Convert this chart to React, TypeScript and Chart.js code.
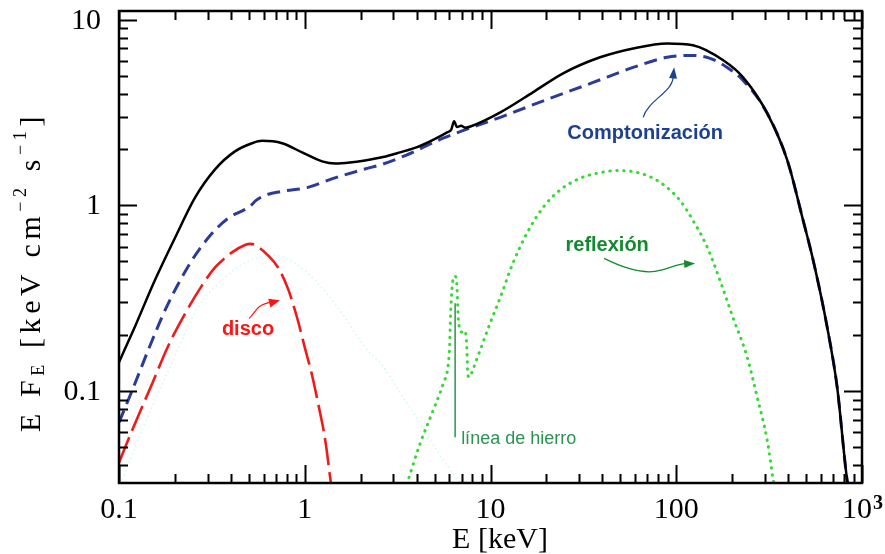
import { useEffect, useRef } from "react";
import { Chart, registerables } from "chart.js";

Chart.register(...registerables);

// ---- data (E in keV, E·F_E in keV cm^-2 s^-1) ----
const totalE = [0.1, 0.122, 0.156, 0.2, 0.257, 0.329, 0.421, 0.52, 0.589, 0.755, 0.967, 1.24, 1.46, 1.75, 2.11, 2.64, 3.26, 4.03, 4.85, 5.84, 6.15, 6.37, 6.6, 6.95, 7.3, 7.8, 11.3, 16.9, 24.6, 38.9, 58.6, 89.3, 123, 179, 229, 309, 396, 482, 546, 650, 735, 832, 853];
const totalF = [0.143, 0.223, 0.395, 0.667, 1.104, 1.563, 1.953, 2.16, 2.225, 2.16, 1.929, 1.726, 1.68, 1.7, 1.745, 1.82, 1.93, 2.06, 2.24, 2.47, 2.56, 2.84, 2.64, 2.68, 2.62, 2.66, 3.17, 4.06, 5.14, 6.27, 7.0, 7.45, 7.28, 6.04, 4.89, 3.13, 1.75, 0.83, 0.506, 0.22, 0.105, 0.033, 0.029];

const comptE = [0.1, 0.119, 0.147, 0.181, 0.247, 0.317, 0.386, 0.477, 0.507, 0.547, 0.611, 0.755, 1.04, 1.4, 2.11, 2.64, 3.5, 5.56, 11.3, 20.9, 35.7, 58.6, 89.3, 119, 152, 188, 229, 309, 396, 482, 546, 650, 735, 832, 853];
const comptF = [0.0678, 0.1035, 0.176, 0.286, 0.506, 0.707, 0.851, 0.952, 0.988, 1.064, 1.132, 1.19, 1.25, 1.39, 1.57, 1.67, 1.86, 2.3, 2.98, 3.77, 4.59, 5.53, 6.27, 6.42, 6.19, 5.53, 4.71, 3.13, 1.75, 0.83, 0.506, 0.22, 0.105, 0.033, 0.029];

const diskE = [0.1, 0.122, 0.151, 0.184, 0.227, 0.28, 0.329, 0.406, 0.477, 0.51, 0.54, 0.634, 0.718, 0.813, 0.909, 1.0, 1.09, 1.18, 1.29, 1.37, 1.4];
const diskF = [0.0413, 0.067, 0.11, 0.175, 0.262, 0.371, 0.463, 0.558, 0.612, 0.62, 0.612, 0.538, 0.463, 0.355, 0.249, 0.172, 0.124, 0.0859, 0.0543, 0.0343, 0.0292];

const reflE = [3.45, 4.18, 4.91, 5.56, 6.01, 6.11, 6.3, 6.45, 6.58, 6.72, 7.01, 7.3, 7.45, 7.55, 7.7, 8.07, 8.79, 9.95, 11.3, 13.2, 15.7, 19.2, 23.7, 30.4, 38.9, 48.1, 63.9, 82.0, 105, 123, 147, 172, 202, 241, 273, 309, 333, 341];
const reflF = [0.029, 0.0522, 0.0787, 0.11, 0.166, 0.272, 0.403, 0.415, 0.379, 0.24, 0.208, 0.211, 0.173, 0.122, 0.119, 0.132, 0.166, 0.232, 0.32, 0.488, 0.707, 0.975, 1.21, 1.4, 1.5, 1.54, 1.49, 1.33, 1.06, 0.83, 0.594, 0.394, 0.249, 0.152, 0.0925, 0.0542, 0.033, 0.029];

const faintE = [0.1, 0.135, 0.188, 0.266, 0.372, 0.495, 0.692, 0.887, 1.14, 1.59, 2.11, 2.61, 3.38, 4.18, 5.35, 6.86];
const faintF = [0.03, 0.0638, 0.134, 0.282, 0.409, 0.499, 0.538, 0.488, 0.394, 0.262, 0.172, 0.138, 0.0925, 0.067, 0.0451, 0.0318];

// ---- axes ----
const xTickValues = [0.1, 1, 10, 100, 1000];
const xTickLabels = ["0.1", "1", "10", "100", "10"];
const xTickExponents = ["", "", "", "", "3"];
const yTickValues = [0.1, 1, 10];
const yTickLabels = ["0.1", "1", "10"];
const X_MIN = 0.1;
const X_MAX = 1000;
const Y_MIN = 0.032;
const Y_MAX = 11.13;

// ---- annotation anchors (data coordinates) ----
const comptArrowTip = { x: 97.4, y: 5.535 };
const reflArrowTip = { x: 126.4, y: 0.487 };
const diskArrowTip = { x: 0.736, y: 0.308 };
const ironLineTop = { x: 6.45, y: 0.2967 };

const pts = (e: number[], f: number[]) => e.map((x, i) => ({ x, y: f[i] }));

const SERIF = "'Liberation Serif', 'Times New Roman', serif";
const SANS = "'Liberation Sans', Arial, sans-serif";

function arrowHead(ctx: CanvasRenderingContext2D, tx: number, ty: number, fx: number, fy: number, len: number, hw: number) {
  const a = Math.atan2(ty - fy, tx - fx);
  const bx = tx - len * Math.cos(a);
  const by = ty - len * Math.sin(a);
  ctx.beginPath();
  ctx.moveTo(tx, ty);
  ctx.lineTo(bx + hw * Math.sin(a), by - hw * Math.cos(a));
  ctx.lineTo(bx - hw * Math.sin(a), by + hw * Math.cos(a));
  ctx.closePath();
  ctx.fill();
}

const framePlugin = {
  id: "framePlugin",
  afterDatasetsDraw(chart: any) {
    const { ctx, chartArea: a, scales } = chart;
    const xs = scales.x;
    const ys = scales.y;
    ctx.save();

    // inward ticks on all four sides
    ctx.strokeStyle = "#000";
    ctx.lineWidth = 2;
    ctx.beginPath();
    for (let d = -2; d <= 3; d++) {
      for (let m = 1; m <= 9; m++) {
        const v = m * Math.pow(10, d);
        const len = m === 1 ? 18 : 9;
        if (v >= X_MIN * 0.999 && v <= X_MAX * 1.001) {
          const px = Math.round(xs.getPixelForValue(v)) + 0.5;
          ctx.moveTo(px, a.bottom);
          ctx.lineTo(px, a.bottom - len);
          ctx.moveTo(px, a.top);
          ctx.lineTo(px, a.top + len);
        }
        if (v >= Y_MIN && v <= Y_MAX) {
          const py = Math.round(ys.getPixelForValue(v)) + 0.5;
          ctx.moveTo(a.left, py);
          ctx.lineTo(a.left + len, py);
          ctx.moveTo(a.right, py);
          ctx.lineTo(a.right - len, py);
        }
      }
    }
    ctx.stroke();

    // frame
    ctx.lineWidth = 2.5;
    ctx.strokeRect(a.left, a.top, a.right - a.left, a.bottom - a.top);

    // tick labels
    ctx.fillStyle = "#000";
    ctx.textBaseline = "middle";
    xTickValues.forEach((v, i) => {
      const px = xs.getPixelForValue(v);
      ctx.font = `30px ${SERIF}`;
      const w = ctx.measureText(xTickLabels[i]).width;
      const exp = xTickExponents[i];
      let we = 0;
      if (exp) {
        ctx.font = `bold 20px ${SERIF}`;
        we = ctx.measureText(exp).width;
      }
      const left = px - (w + we) / 2;
      ctx.font = `30px ${SERIF}`;
      ctx.textAlign = "left";
      ctx.fillText(xTickLabels[i], left, a.bottom + 27);
      if (exp) {
        ctx.font = `bold 20px ${SERIF}`;
        ctx.fillText(exp, left + w + 1, a.bottom + 21);
      }
    });
    ctx.font = `30px ${SERIF}`;
    ctx.textAlign = "right";
    yTickValues.forEach((v, i) => {
      ctx.fillText(yTickLabels[i], a.left - 18, ys.getPixelForValue(v) + 1);
    });

    // x axis title
    ctx.textAlign = "center";
    ctx.font = `30px ${SERIF}`;
    ctx.fillText("E [keV]", 500, 540);

    // y axis title (rotated, with sub/superscripts)
    const segs = [
      { t: "E F", s: 30, dy: 0 },
      { t: "E", s: 18, dy: 7 },
      { t: " [keV cm", s: 30, dy: 0 },
      { t: "−2", s: 18, dy: -11 },
      { t: " s", s: 30, dy: 0 },
      { t: "−1", s: 18, dy: -11 },
      { t: "]", s: 30, dy: 0 },
    ];
    ctx.save();
    ctx.translate(32, 272);
    ctx.rotate(-Math.PI / 2);
    (ctx as any).letterSpacing = "4.6px";
    ctx.textAlign = "left";
    let total = 0;
    const widths = segs.map((g) => {
      ctx.font = `${g.s}px ${SERIF}`;
      const w = ctx.measureText(g.t).width;
      total += w;
      return w;
    });
    let cx = -total / 2;
    segs.forEach((g, i) => {
      ctx.font = `${g.s}px ${SERIF}`;
      ctx.fillText(g.t, cx, g.dy);
      cx += widths[i];
    });
    ctx.restore();

    // ---- annotations ----
    ctx.lineWidth = 1.2;
    // Comptonización
    {
      const tx = xs.getPixelForValue(comptArrowTip.x);
      const ty = ys.getPixelForValue(comptArrowTip.y);
      ctx.strokeStyle = "#1d4190";
      ctx.fillStyle = "#1d4190";
      ctx.beginPath();
      ctx.moveTo(tx - 31, ty + 50);
      ctx.bezierCurveTo(tx - 26, ty + 33, tx - 2, ty + 25, tx - 1, ty + 10);
      ctx.stroke();
      arrowHead(ctx, tx, ty, tx - 1, ty + 10, 11, 4);
      ctx.font = `bold 20px ${SANS}`;
      ctx.textAlign = "center";
      ctx.textBaseline = "middle";
      ctx.fillText("Comptonización", tx - 29, ty + 66);
    }
    // reflexión
    {
      const tx = xs.getPixelForValue(reflArrowTip.x);
      const ty = ys.getPixelForValue(reflArrowTip.y);
      ctx.strokeStyle = "#138a30";
      ctx.fillStyle = "#138a30";
      ctx.beginPath();
      ctx.moveTo(tx - 91, ty - 5);
      ctx.bezierCurveTo(tx - 75, ty + 3, tx - 55, ty + 10, tx - 40, ty + 8);
      ctx.bezierCurveTo(tx - 27, ty + 6, tx - 20, ty + 1, tx - 9, ty);
      ctx.stroke();
      arrowHead(ctx, tx, ty, tx - 10, ty + 0.5, 11, 4);
      ctx.font = `bold 20px ${SANS}`;
      ctx.textAlign = "center";
      ctx.textBaseline = "middle";
      ctx.fillText("reflexión", tx - 88, ty - 18);
    }
    // disco
    {
      const tx = xs.getPixelForValue(diskArrowTip.x);
      const ty = ys.getPixelForValue(diskArrowTip.y);
      ctx.strokeStyle = "#ff1414";
      ctx.fillStyle = "#ff1414";
      ctx.beginPath();
      ctx.moveTo(tx - 31, ty + 18);
      ctx.bezierCurveTo(tx - 24, ty + 12, tx - 24, ty + 4, tx - 9, ty + 2);
      ctx.stroke();
      arrowHead(ctx, tx, ty, tx - 10, ty + 2.5, 11, 4.5);
      ctx.font = `bold 20px ${SANS}`;
      ctx.textAlign = "center";
      ctx.textBaseline = "middle";
      ctx.fillText("disco", tx - 32, ty + 29);
    }
    // línea de hierro
    {
      const lx = xs.getPixelForValue(ironLineTop.x);
      const ly = ys.getPixelForValue(ironLineTop.y);
      ctx.strokeStyle = "#2a9450";
      ctx.fillStyle = "#2a9450";
      ctx.lineWidth = 1.5;
      ctx.beginPath();
      ctx.moveTo(lx, ly);
      ctx.lineTo(lx, ly + 134);
      ctx.stroke();
      ctx.font = `18px ${SANS}`;
      ctx.textAlign = "left";
      ctx.textBaseline = "middle";
      ctx.fillText("línea de hierro", lx + 6, ly + 136);
    }

    ctx.restore();
  },
};

export default function App() {
  const ref = useRef<HTMLCanvasElement | null>(null);

  useEffect(() => {
    if (!ref.current) return;
    const common = {
      pointRadius: 0,
      pointHoverRadius: 0,
      fill: false,
      cubicInterpolationMode: "monotone" as const,
    };
    const chart = new Chart(ref.current, {
      type: "line",
      data: {
        datasets: [
          {
            ...common,
            label: "total",
            data: pts(totalE, totalF),
            borderColor: "#000000",
            borderWidth: 2.5,
            order: 0,
          },
          {
            ...common,
            label: "Comptonización",
            data: pts(comptE, comptF),
            borderColor: "#2c3a98",
            borderWidth: 3,
            borderDash: [13, 7],
            order: 1,
          },
          {
            ...common,
            label: "disco",
            data: pts(diskE, diskF),
            borderColor: "#ee1b1b",
            borderWidth: 2.6,
            borderDash: [27, 7],
            order: 2,
          },
          {
            ...common,
            label: "reflexión",
            data: pts(reflE, reflF),
            borderColor: "#38d838",
            borderWidth: 3,
            borderDash: [0.5, 6.5],
            borderCapStyle: "round",
            order: 3,
          },
          {
            ...common,
            label: "faint",
            data: pts(faintE, faintF),
            borderColor: "#d3f6f6",
            borderWidth: 1.5,
            borderDash: [1.5, 3],
            order: 4,
          },
        ],
      },
      options: {
        responsive: false,
        animation: false,
        devicePixelRatio: 1,
        events: [],
        layout: { padding: { left: 119, right: 23, top: 11, bottom: 71 } },
        plugins: { legend: { display: false }, tooltip: { enabled: false } },
        scales: {
          x: { type: "logarithmic", min: X_MIN, max: X_MAX, display: false },
          y: { type: "logarithmic", min: Y_MIN, max: Y_MAX, display: false },
        },
      },
      plugins: [framePlugin],
    });
    return () => chart.destroy();
  }, []);

  return (
    <div style={{ position: "fixed", left: 0, top: 0, width: 885, height: 554, background: "#fff" }}>
      <canvas ref={ref} width={885} height={554} style={{ display: "block" }} />
    </div>
  );
}
